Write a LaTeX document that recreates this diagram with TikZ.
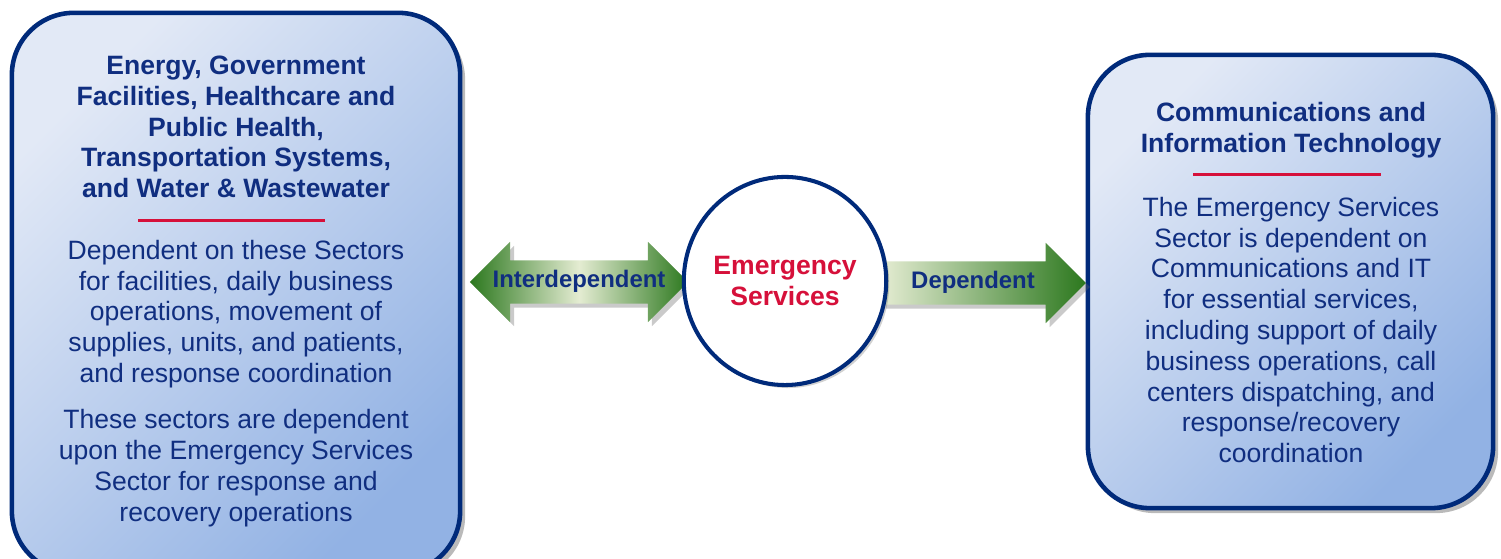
\documentclass[tikz,border=0pt]{standalone}
\usepackage{fontspec}
\setmainfont{Liberation Sans}
\usetikzlibrary{positioning, shapes.geometric, shapes.arrows, shadows}
\definecolor{navytext}{RGB}{16,46,128}
\definecolor{navyline}{RGB}{0,42,122}
\definecolor{esred}{RGB}{214,16,58}
\definecolor{boxlight}{RGB}{226,233,246}
\definecolor{boxdark}{RGB}{146,178,228}
\definecolor{arrowdark}{RGB}{44,120,30}
\definecolor{arrowlight}{RGB}{228,236,210}
\newcommand{\bodyfont}{\fontsize{7.55}{8.75}\selectfont}
\newcommand{\headfont}{\fontsize{7.55}{8.7}\selectfont\bfseries}
\newcommand{\arrowfont}{\fontsize{6.8}{8}\selectfont\bfseries}

\begin{document}
\begin{tikzpicture}[x=0.01cm, y=-0.01cm,
    sectorbox/.style={draw=navyline, line width=1.3pt, rounded corners=0.62cm,
      top color=boxlight, bottom color=boxdark, shading angle=45,
      drop shadow={shadow xshift=0.05cm, shadow yshift=-0.05cm, opacity=0.45, fill=black!60}},
    headtext/.style={inner sep=0pt, align=center, text=navytext, font=\headfont},
    bodytext/.style={inner sep=0pt, align=center, text=navytext, font=\bodyfont},
    redrule/.style={draw=esred, line width=0.85pt},
    linkarrow/.style={inner xsep=0pt, inner ysep=0.105cm, text height=0.165cm, text depth=0.045cm,
      text=navytext, font=\arrowfont,
      single arrow head extend=0.185cm, double arrow head extend=0.185cm,
      drop shadow={shadow xshift=0.04cm, shadow yshift=-0.04cm, opacity=0.35, fill=black!60}}]

  \useasboundingbox (0,0) rectangle (1501,559);

  \node[sectorbox, minimum width=4.48cm, minimum height=5.6cm] (SEC1) at (236,293) {};
  \node[sectorbox, minimum width=4.05cm, minimum height=4.53cm] (SEC2) at (1290.5,281.5) {};

  \node[headtext] (TXT1) at (236,127) {Energy, Government\\Facilities, Healthcare and\\Public Health,\\Transportation Systems,\\and Water \& Wastewater};
  \node[bodytext] (TXT2) at (236,314) {Dependent on these Sectors\\for facilities, daily business\\operations, movement of\\supplies, units, and patients,\\and response coordination};
  \node[bodytext] (TXT3) at (236,468) {These sectors are dependent\\upon the Emergency Services\\Sector for response and\\recovery operations};

  \node[headtext] (TXT4) at (1291,130) {Communications and\\Information Technology};
  \node[bodytext] (TXT5) at (1291,330) {The Emergency Services\\Sector is dependent on\\Communications and IT\\for essential services,\\including support of daily\\business operations, call\\centers dispatching, and\\response/recovery\\coordination};

  \coordinate (RUL1) at (138,221);
  \coordinate (RUL2) at (325,221);
  \coordinate (RUL3) at (1193,175);
  \coordinate (RUL4) at (1381,175);
  \draw[redrule] (RUL1) -- (RUL2);
  \draw[redrule] (RUL3) -- (RUL4);

  \node[linkarrow, double arrow, minimum height=2.18cm,
    left color=arrowdark, right color=arrowdark, middle color=arrowlight] (DEP1) at (579,282) {Interdependent};
  \node[linkarrow, single arrow, minimum height=2.04cm,
    left color=arrowlight, right color=arrowdark] (DEP2) at (973,283) {Dependent};

  \node[ellipse, draw=navyline, line width=1.15pt, fill=white, minimum width=2cm, minimum height=2.08cm,
    align=center, inner sep=0pt, text=esred, font=\headfont,
    drop shadow={shadow xshift=0.03cm, shadow yshift=-0.03cm, opacity=0.3, fill=black!60}] (ESS) at (785,281) {Emergency\\Services};
\end{tikzpicture}
\end{document}
